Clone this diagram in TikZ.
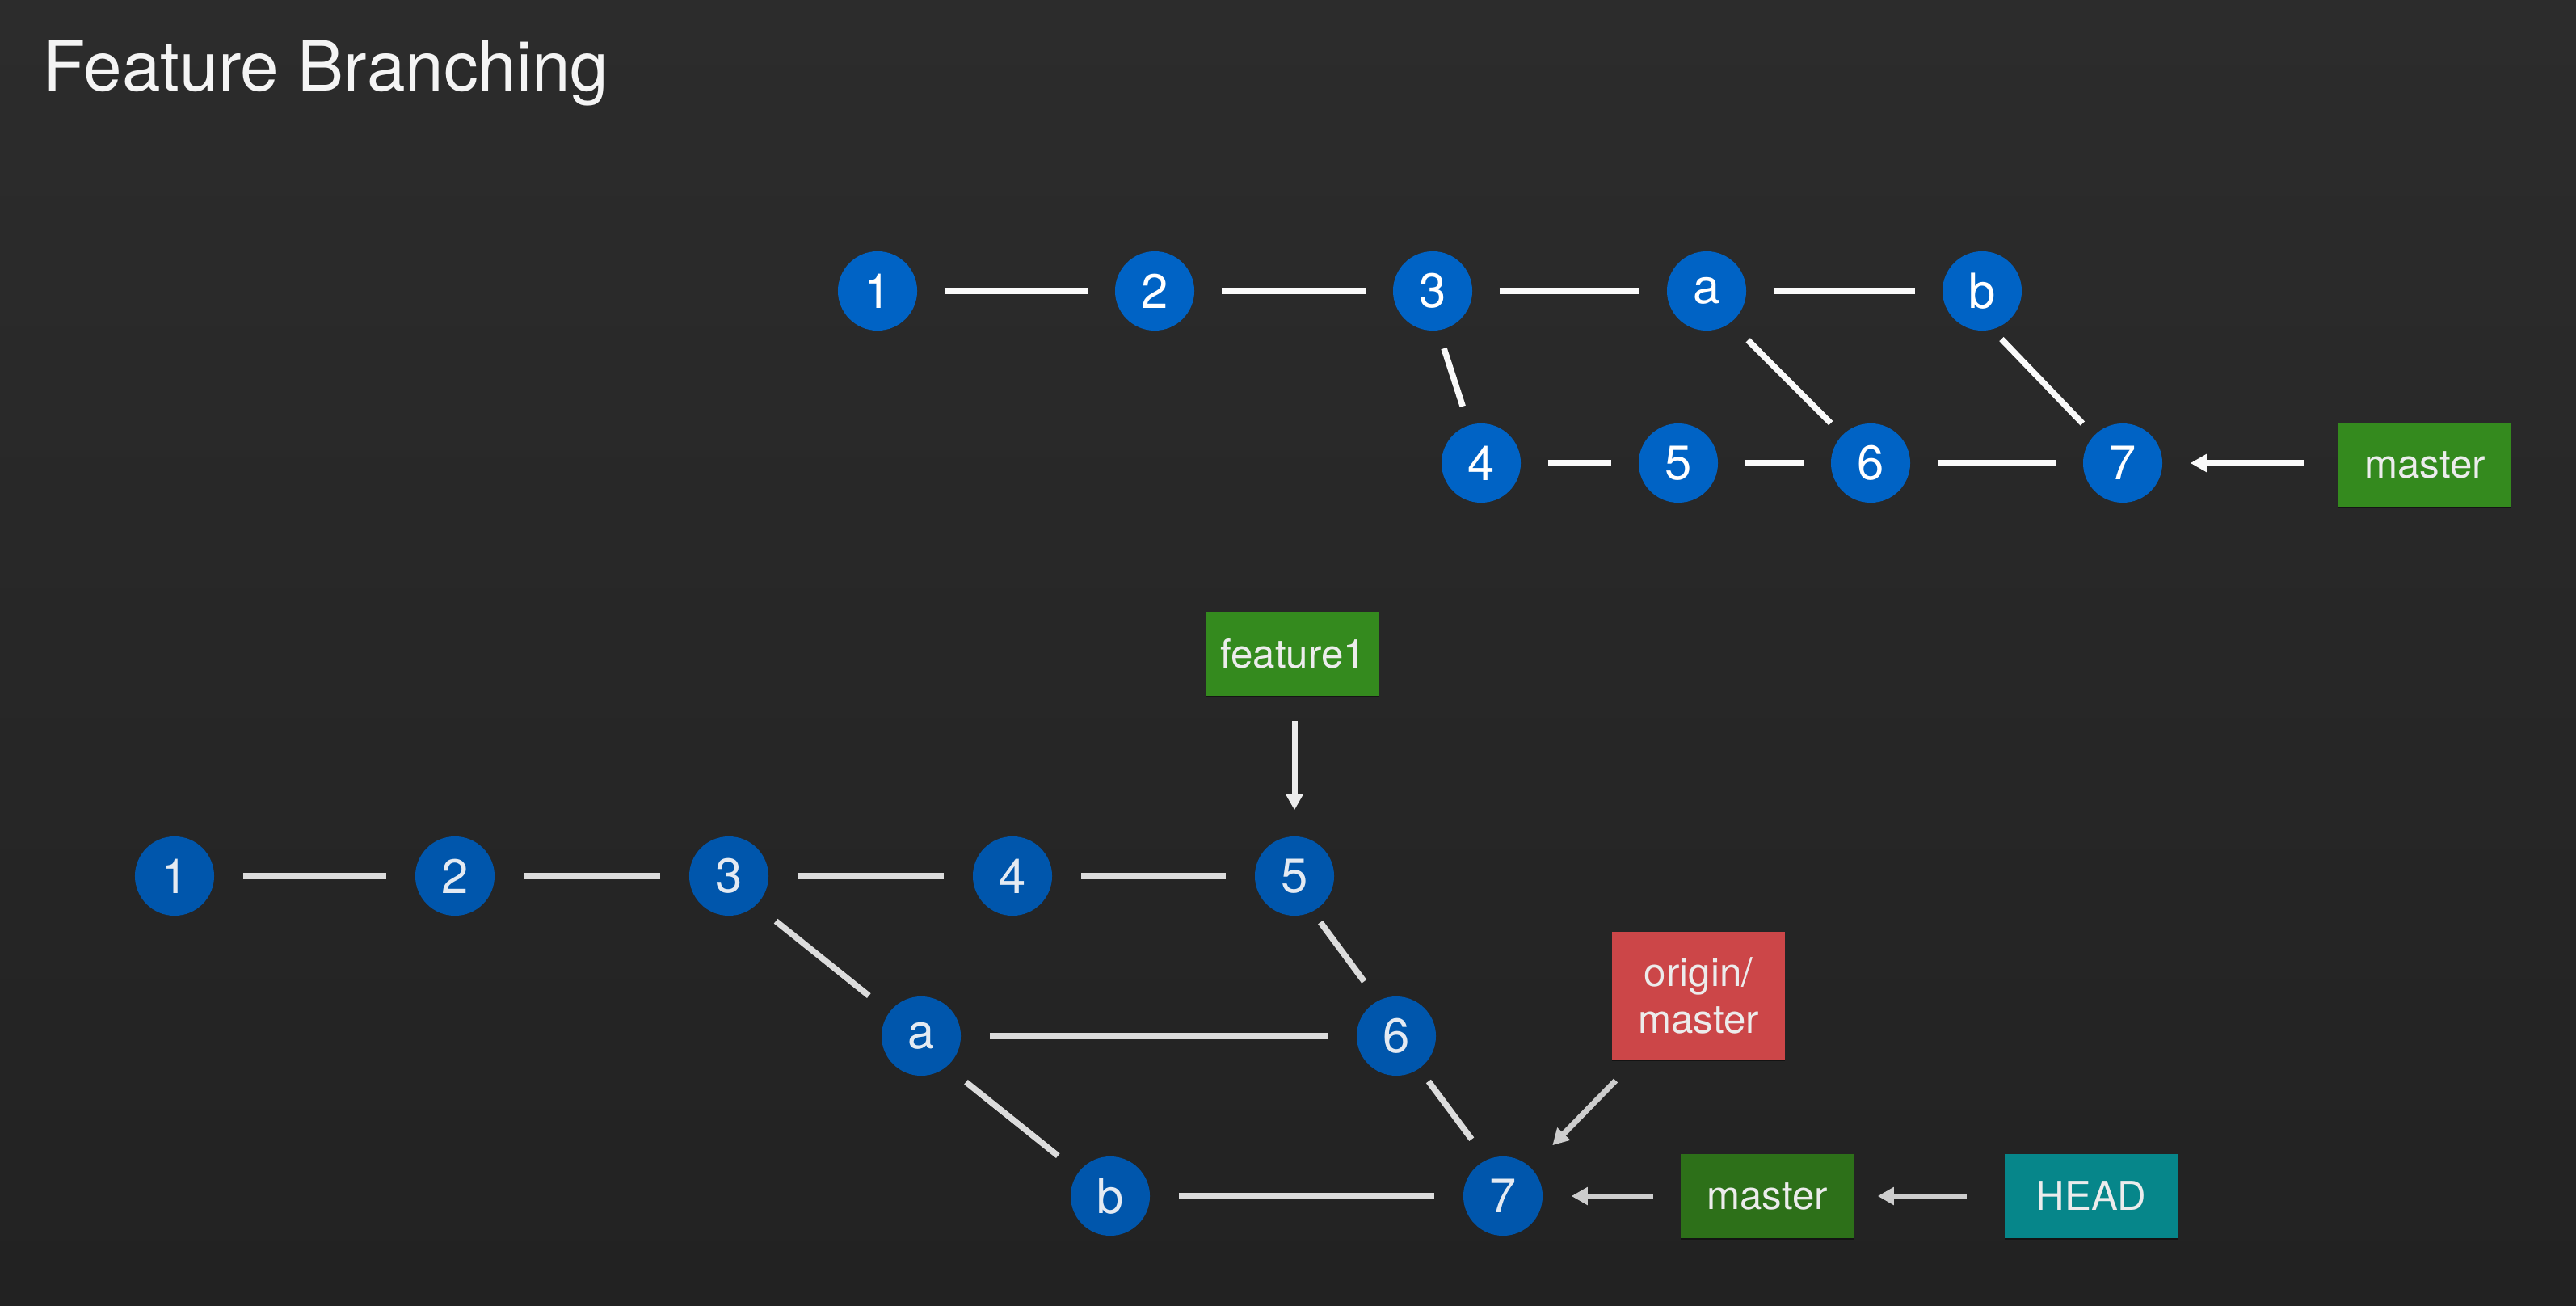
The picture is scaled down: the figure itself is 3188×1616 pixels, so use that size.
\documentclass[tikz,border=0pt]{standalone}
\usepackage{fontspec}
\setmainfont{TeX Gyre Heros}
\usetikzlibrary{arrows.meta,shadows}
\definecolor{bgtop}{RGB}{44,44,44}
\definecolor{bgbot}{RGB}{34,34,34}
\definecolor{blueA}{RGB}{0,99,197}
\definecolor{blueB}{RGB}{0,86,172}
\definecolor{lineA}{RGB}{250,250,250}
\definecolor{lineB}{RGB}{220,220,220}
\definecolor{arrB}{RGB}{205,205,205}
\definecolor{greenA}{RGB}{52,138,30}
\definecolor{greenB}{RGB}{45,112,25}
\definecolor{redB}{RGB}{204,70,72}
\definecolor{tealB}{RGB}{6,134,138}
\definecolor{boxtxt}{RGB}{236,236,236}
\definecolor{digB}{RGB}{228,234,242}
\begin{document}
\begin{tikzpicture}[x=0.01cm,y=-0.01cm,
  commit/.style={circle,fill=blueA,minimum size=0.98cm,inner sep=0pt,text=white,
    font=\fontsize{17}{20}\selectfont},
  commitB/.style={commit,fill=blueB,text=digB},
  refbox/.style={rectangle,minimum width=2.14cm,minimum height=1.03cm,inner sep=0pt,
    text=boxtxt,align=center,font=\fontsize{14}{16.7}\selectfont,
    drop shadow={shadow xshift=0pt,shadow yshift=-0.8pt,fill=black,opacity=0.45}},
  link/.style={draw=lineA,line width=0.075cm},
  linkB/.style={link,draw=lineB},
  hgap/.style={shorten <=0.33cm,shorten >=0.33cm},
  hgapB/.style={shorten <=0.35cm,shorten >=0.35cm},
  ptr/.style={draw=lineA,line width=0.07cm,-{Triangle[width=0.21cm,length=0.2cm]}},
  ptrB/.style={ptr,draw=arrB}
]
% background
\shade[top color=bgtop,bottom color=bgbot] (0,0) rectangle (3188,1616);
\useasboundingbox (0,0) rectangle (3188,1616);

% title
\node[anchor=base west,inner sep=0pt,text={rgb,255:red,244;green,244;blue,244},
  font=\fontsize{24.3}{28}\selectfont] (title) at (53,113) {Feature Branching};

% ---------- top graph ----------
\node[commit] (t1) at (1086,360) {1};
\node[commit] (t2) at (1429,360) {2};
\node[commit] (t3) at (1773,360) {3};
\node[commit] (ta) at (2112,360) {a};
\node[commit] (tb) at (2453,360) {b};
\node[commit] (t4) at (1833,573) {4};
\node[commit] (t5) at (2077,573) {5};
\node[commit] (t6) at (2315,573) {6};
\node[commit] (t7) at (2627,573) {7};
\node[refbox,fill=greenA] (tm) at (3001,575) {master};

\draw[link,hgap] (t1) -- (t2);
\draw[link,hgap] (t2) -- (t3);
\draw[link,hgap] (t3) -- (ta);
\draw[link,hgap] (ta) -- (tb);
\draw[link,hgap] (t4) -- (t5);
\draw[link,hgap] (t5) -- (t6);
\draw[link,hgap] (t6) -- (t7);
\draw[link,shorten <=0.23cm,shorten >=0.24cm] (t3.-82) -- (t4.108);
\draw[link,shorten <=0.30cm,shorten >=0.20cm] (ta.-53) -- (t6.135);
\draw[link,shorten <=0.16cm,shorten >=0.20cm] (tb.-75) -- (t7.136);
\draw[ptr,shorten <=0.42cm,shorten >=0.34cm] (tm.west |- t7) -- (t7);

% ---------- bottom graph ----------
\node[commitB] (b1) at (216,1084) {1};
\node[commitB] (b2) at (563,1084) {2};
\node[commitB] (b3) at (902,1084) {3};
\node[commitB] (b4) at (1253,1084) {4};
\node[commitB] (b5) at (1602,1084) {5};
\node[commitB] (ba) at (1140,1282) {a};
\node[commitB] (b6) at (1728,1282) {6};
\node[commitB] (bb) at (1374,1480) {b};
\node[commitB] (b7) at (1860,1480) {7};
\node[refbox,fill=greenA] (bf) at (1600,809) {feature1};
\node[refbox,fill=redB,minimum height=1.57cm] (om) at (2102,1232) {origin/\\master};
\node[refbox,fill=greenB] (bm) at (2187,1480) {master};
\node[refbox,fill=tealB] (bh) at (2588,1480) {HEAD};

\draw[linkB,hgapB] (b1) -- (b2);
\draw[linkB,hgapB] (b2) -- (b3);
\draw[linkB,hgapB] (b3) -- (b4);
\draw[linkB,hgapB] (b4) -- (b5);
\draw[linkB,hgapB] (ba) -- (b6);
\draw[linkB,hgapB] (bb) -- (b7);
\draw[linkB,shorten <=0.31cm,shorten >=0.32cm] (b3.-47) -- (ba.143);
\draw[linkB,shorten <=0.16cm,shorten >=0.29cm] (b5.-63) -- (b6.117);
\draw[linkB,shorten <=0.30cm,shorten >=0.32cm] (ba.-50) -- (bb.143);
\draw[linkB,shorten <=0.19cm,shorten >=0.31cm] (b6.-55) -- (b7.114);

\draw[ptr,draw={rgb,255:red,236;green,236;blue,236},shorten <=0.31cm,shorten >=0.32cm] (bf.south -| b5) -- (b5);
\draw[ptrB,shorten <=0.36cm,shorten >=0.38cm] (om) -- (b7);
\draw[ptrB,shorten <=0.33cm,shorten >=0.35cm] (bm) -- (b7);
\draw[ptrB,shorten <=0.46cm,shorten >=0.29cm] (bh) -- (bm);
\end{tikzpicture}
\end{document}
